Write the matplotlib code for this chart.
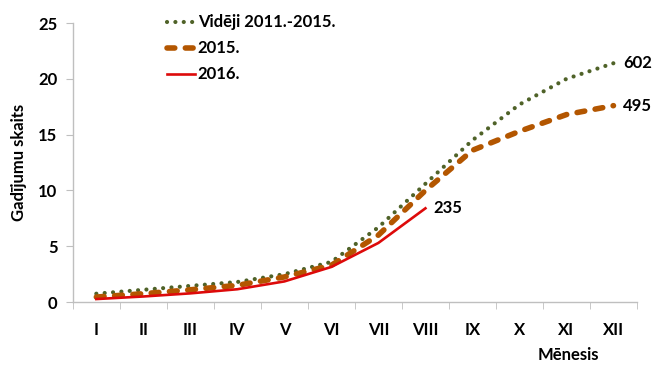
import matplotlib
matplotlib.use("Agg")
import matplotlib.pyplot as plt
import numpy as np

months = ["I", "II", "III", "IV", "V", "VI", "VII", "VIII", "IX", "X", "XI", "XII"]
avg_2011_2015 = [0.75, 1.1, 1.45, 1.8, 2.5, 3.6, 6.7, 10.6, 14.5, 17.7, 20.0, 21.4]
y2015 = [0.45, 0.75, 1.1, 1.5, 2.25, 3.3, 6.0, 10.0, 13.6, 15.3, 16.8, 17.6]
y2016 = [0.27, 0.5, 0.78, 1.15, 1.85, 3.15, 5.3, 8.4]
labels_end = ["602", "495", "235"]
series_names = ["Vidēji 2011.-2015.", "2015.", "2016."]

plt.rcParams['font.family'] = ['Lato', 'DejaVu Sans']
plt.rcParams['font.weight'] = 'bold'

FS = 12

fig = plt.figure(figsize=(6.56, 3.72), dpi=100)
ax = fig.add_axes([0.111, 0.188, 0.86, 0.75])

x = np.arange(len(months))
green = "#4F6228"
orange = "#B35600"
red = "#DD0A0A"

l1, = ax.plot(x, avg_2011_2015, color=green, lw=3.0, linestyle=(0, (0.01, 2.0)),
              dash_capstyle='round', label=series_names[0])
l2, = ax.plot(x, y2015, color=orange, lw=4.0, linestyle=(0, (1.4, 1.9)),
              dash_capstyle='round', label=series_names[1])
l3, = ax.plot(x[:len(y2016)], y2016, color=red, lw=1.9, label=series_names[2])

ax.annotate(labels_end[0], (x[-1], avg_2011_2015[-1]), xytext=(7, 0), textcoords='offset points',
            va='center', ha='left', fontsize=FS, fontweight='bold')
ax.annotate(labels_end[1], (x[-1], y2015[-1]), xytext=(7, 0), textcoords='offset points',
            va='center', ha='left', fontsize=FS, fontweight='bold')
ax.annotate(labels_end[2], (x[len(y2016) - 1], y2016[-1]), xytext=(6, 0), textcoords='offset points',
            va='center', ha='left', fontsize=FS, fontweight='bold')

ax.set_xlim(-0.5, len(months) - 0.5)
ax.set_ylim(0, 25)
ax.set_yticks([0, 5, 10, 15, 20, 25])
ax.set_xticks(x)
ax.set_xticklabels(months)
ax.set_xticks(np.arange(-0.5, len(months) + 0.5, 1), minor=True)
ax.tick_params(axis='x', which='major', length=0, pad=14, labelsize=FS)
ax.tick_params(axis='x', which='minor', length=5, color='#BFBFBF', direction='out')
ax.tick_params(axis='y', length=5, color='#BFBFBF', labelsize=FS, pad=6)
for lab in ax.get_xticklabels() + ax.get_yticklabels():
    lab.set_fontweight('bold')

for s in ['top', 'right']:
    ax.spines[s].set_visible(False)
for s in ['left', 'bottom']:
    ax.spines[s].set_color('#BFBFBF')
    ax.spines[s].set_linewidth(1.0)

ax.set_ylabel("Gadījumu skaits", fontsize=FS, fontweight='bold', labelpad=8)
fig.text(0.866, 0.045, "Mēnesis", fontsize=FS, fontweight='bold', ha='center', va='center')

leg = ax.legend(handles=[l1, l2, l3], loc='upper left', bbox_to_anchor=(0.14, 1.085),
                frameon=False, handlelength=1.7, handletextpad=0.15,
                labelspacing=0.6, prop={'weight': 'bold', 'size': FS})

fig.savefig("out.png", dpi=100)
